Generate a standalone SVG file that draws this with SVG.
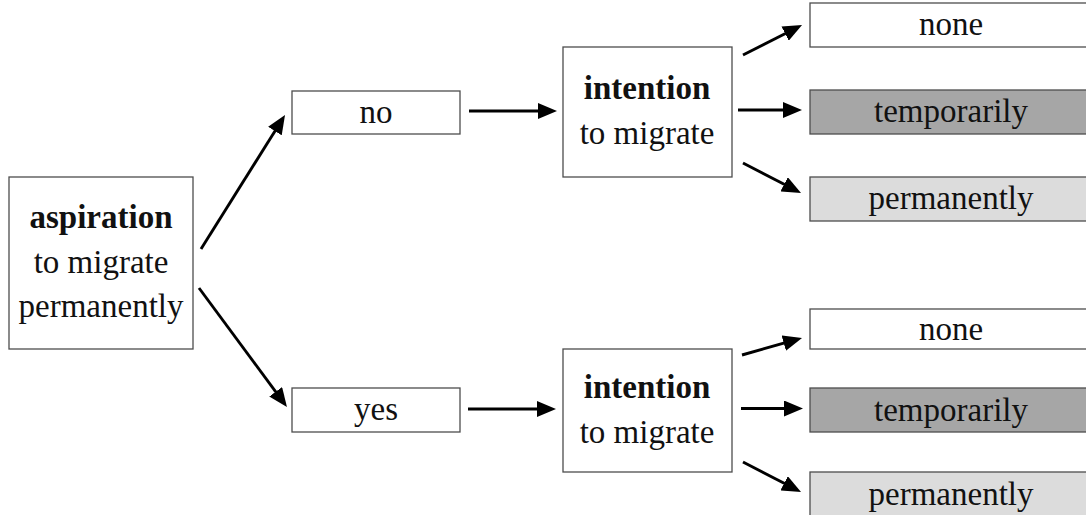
<svg xmlns="http://www.w3.org/2000/svg" width="1086" height="515" viewBox="0 0 1086 515" font-family="'Liberation Serif', 'Times New Roman', serif">
<style>
.box{stroke:#4d4d4d;stroke-width:1.3;fill:#fff}
.dark{fill:#a6a6a6}
.light{fill:#dcdcdc}
text{font-family:'Liberation Serif','Times New Roman',serif;font-size:33px;fill:#111;text-anchor:middle}
.b{font-weight:bold}
.c line{stroke:#000;stroke-width:2.9;marker-end:url(#ah)}
</style>
<defs>
<marker id="ah" viewBox="0 0 19 16" markerWidth="19" markerHeight="16" refX="12" refY="8" orient="auto" markerUnits="userSpaceOnUse">
<path d="M0,0 L19,8 L0,16 z" fill="#000"/>
</marker>
</defs>
<rect width="1086" height="515" fill="#fff"/>
<g id="aspiration">
<rect class="box" x="9" y="177" width="184" height="172"/>
<text class="b" x="101" y="228">aspiration</text>
<text x="101" y="273">to migrate</text>
<text x="101" y="317">permanently</text>
</g>
<g id="no">
<rect class="box" x="292" y="91" width="168" height="43"/>
<text x="376" y="123">no</text>
</g>
<g id="yes">
<rect class="box" x="292" y="388" width="168" height="44"/>
<text x="376" y="420">yes</text>
</g>
<g id="intention-top">
<rect class="box" x="563" y="47" width="169" height="130"/>
<text class="b" x="647" y="99">intention</text>
<text x="647" y="144">to migrate</text>
</g>
<g id="intention-bottom">
<rect class="box" x="563" y="349" width="169" height="123"/>
<text class="b" x="647" y="398">intention</text>
<text x="647" y="443">to migrate</text>
</g>
<g id="none-top">
<rect class="box" x="810" y="3" width="290" height="44"/>
<text x="951" y="35">none</text>
</g>
<g id="temporarily-top">
<rect class="box dark" x="810" y="90" width="290" height="44"/>
<text x="951" y="122">temporarily</text>
</g>
<g id="permanently-top">
<rect class="box light" x="810" y="177" width="290" height="44"/>
<text x="951" y="209">permanently</text>
</g>
<g id="none-bottom">
<rect class="box" x="810" y="309" width="290" height="40"/>
<text x="951" y="340">none</text>
</g>
<g id="temporarily-bottom">
<rect class="box dark" x="810" y="388" width="290" height="44"/>
<text x="951" y="421">temporarily</text>
</g>
<g id="permanently-bottom">
<rect class="box light" x="810" y="472" width="290" height="60"/>
<text x="951" y="505">permanently</text>
</g>
<g id="connectors" class="c">
<line x1="201" y1="249" x2="281.3" y2="120.9"/>
<line x1="199" y1="288" x2="282.8" y2="401.4"/>
<line x1="469" y1="111" x2="550" y2="111"/>
<line x1="468" y1="409" x2="549" y2="409"/>
<line x1="743" y1="55" x2="795.8" y2="28.2"/>
<line x1="738" y1="110" x2="795" y2="110"/>
<line x1="743" y1="163" x2="794.8" y2="189.8"/>
<line x1="742" y1="355" x2="795.3" y2="339.9"/>
<line x1="741" y1="408.5" x2="796" y2="408.5"/>
<line x1="743" y1="462" x2="794.8" y2="488.8"/>
</g>
</svg>
